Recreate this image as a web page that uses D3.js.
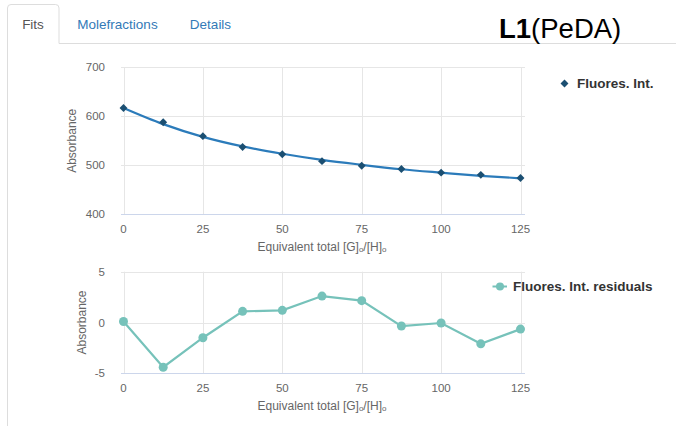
<!DOCTYPE html>
<html>
<head>
<meta charset="utf-8">
<script src="https://cdn.jsdelivr.net/npm/d3@7"></script>
<style>
  html, body { margin: 0; padding: 0; background: #fff; }
  svg { display: block; font-family: "Liberation Sans", Arial, Helvetica, sans-serif; }
</style>
</head>
<body>
<svg id="chart" width="676" height="426"></svg>
<script>
// ---- data ----
const xValues = [0, 12.5, 25, 37.5, 50, 62.5, 75, 87.5, 100, 112.5, 125];
const fluoresData = [617, 588, 559.5, 537.5, 522.5, 508.5, 499, 492.5, 485, 480.5, 474];
const fluoresFit = [617, 584, 558, 538.5, 523.5, 511, 501, 492, 485, 478.5, 473.5];
const residuals = [0.1, -4.4, -1.5, 1.1, 1.2, 2.6, 2.15, -0.35, -0.05, -2.1, -0.65];
const xTicks = [0, 25, 50, 75, 100, 125];
const yTicksTop = [400, 500, 600, 700];
const yTicksBottom = [-5, 0, 5];
const tabs = ["Fits", "Molefractions", "Details"];
const seriesName = "Fluores. Int.";
const residualName = "Fluores. Int. residuals";
const yTitle = "Absorbance";

const svg = d3.select("#chart");

// ---- tabs / header ----
svg.append("line").attr("x1", 59).attr("x2", 676).attr("y1", 43.5).attr("y2", 43.5)
  .attr("stroke", "#ddd");
svg.append("path")
  .attr("d", "M7.5,426 L7.5,8 Q7.5,4.5 11,4.5 L55.5,4.5 Q59,4.5 59,8 L59,43.5")
  .attr("fill", "none").attr("stroke", "#ddd");
const tabX = [33, 117.5, 210.5];
tabs.forEach((t, i) => {
  svg.append("text").attr("x", tabX[i]).attr("y", 28.5)
    .attr("text-anchor", "middle").attr("font-size", 13.5)
    .attr("fill", i === 0 ? "#555" : "#337ab7").text(t);
});
const title = svg.append("text").attr("x", 499).attr("y", 38)
  .attr("font-size", 27.5).attr("fill", "#000");
title.append("tspan").attr("font-weight", "bold").text("L1");
title.append("tspan").text("(PeDA)");

// ---- shared x scale ----
const x = d3.scaleLinear().domain([0, 125]).range([123.5, 520.5]);
const plotLeft = 121, plotRight = 525;

function drawPanel(cfg) {
  const g = svg.append("g");
  const y = cfg.y;
  g.selectAll(".hg").data(cfg.yTicks).enter().append("line")
    .attr("x1", plotLeft).attr("x2", plotRight)
    .attr("y1", d => Math.round(y(d)) + 0.5).attr("y2", d => Math.round(y(d)) + 0.5)
    .attr("stroke", "#e6e6e6");
  g.selectAll(".vg").data(xTicks).enter().append("line")
    .attr("x1", d => Math.round(x(d)) + 0.5).attr("x2", d => Math.round(x(d)) + 0.5)
    .attr("y1", y.range()[1]).attr("y2", y.range()[0])
    .attr("stroke", "#e6e6e6");
  const yb = Math.round(y.range()[0]) + 0.5;
  g.append("line").attr("x1", plotLeft).attr("x2", plotRight).attr("y1", yb).attr("y2", yb)
    .attr("stroke", "#ccd6eb");
  g.selectAll(".yl").data(cfg.yTicks).enter().append("text")
    .attr("x", 105).attr("y", d => y(d) + 4)
    .attr("text-anchor", "end").attr("font-size", 11.5).attr("fill", "#666")
    .text(d => d);
  g.selectAll(".xl").data(xTicks).enter().append("text")
    .attr("x", d => x(d)).attr("y", y.range()[0] + 19)
    .attr("text-anchor", "middle").attr("font-size", 11.5).attr("fill", "#666")
    .text(d => d);
  const xt = g.append("text").attr("x", 322).attr("y", y.range()[0] + 37)
    .attr("text-anchor", "middle").attr("font-size", 12).attr("fill", "#666");
  xt.append("tspan").text("Equivalent total [G]");
  xt.append("tspan").attr("font-size", 8).attr("dy", 1).text("o");
  xt.append("tspan").attr("dy", -1).text("/[H]");
  xt.append("tspan").attr("font-size", 8).attr("dy", 1).text("o");
  const cy = (y.range()[0] + y.range()[1]) / 2;
  g.append("text").attr("transform", `translate(${cfg.yTitleX},${cy}) rotate(-90)`)
    .attr("text-anchor", "middle").attr("font-size", 12).attr("fill", "#666")
    .text(yTitle);
  return g;
}

// ---- top panel ----
const yTop = d3.scaleLinear().domain([400, 700]).range([214.3, 67.3]);
const gTop = drawPanel({ y: yTop, yTicks: yTicksTop, yTitleX: 76 });
const fitPts = xValues.map((v, i) => [v, fluoresFit[i]]);
gTop.append("path")
  .attr("d", d3.line().x(d => x(d[0])).y(d => yTop(d[1])).curve(d3.curveMonotoneX)(fitPts))
  .attr("fill", "none").attr("stroke", "#2b7bba").attr("stroke-width", 2.2);
const diamond = d3.symbol().type(d3.symbolDiamond2).size(40);
gTop.selectAll(".pt").data(xValues).enter().append("path")
  .attr("d", diamond)
  .attr("transform", (d, i) => `translate(${x(d)},${yTop(fluoresData[i])})`)
  .attr("fill", "#1b4f72");
svg.append("path").attr("d", diamond).attr("transform", "translate(564.5,83.5)").attr("fill", "#1b4f72");
svg.append("text").attr("x", 577).attr("y", 88).attr("font-size", 13.5).attr("font-weight", "bold")
  .attr("fill", "#333").text(seriesName);

// ---- bottom panel ----
const yBot = d3.scaleLinear().domain([-5, 5]).range([373.3, 271.7]);
const gBot = drawPanel({ y: yBot, yTicks: yTicksBottom, yTitleX: 86 });
const resPts = xValues.map((v, i) => [v, residuals[i]]);
gBot.append("path")
  .attr("d", d3.line().x(d => x(d[0])).y(d => yBot(d[1]))(resPts))
  .attr("fill", "none").attr("stroke", "#76c2ba").attr("stroke-width", 2.2);
gBot.selectAll(".rp").data(resPts).enter().append("circle")
  .attr("cx", d => x(d[0])).attr("cy", d => yBot(d[1])).attr("r", 4.5)
  .attr("fill", "#76c2ba");
svg.append("line").attr("x1", 492.5).attr("x2", 507).attr("y1", 286.5).attr("y2", 286.5)
  .attr("stroke", "#76c2ba").attr("stroke-width", 2);
svg.append("circle").attr("cx", 500).attr("cy", 286.5).attr("r", 4).attr("fill", "#76c2ba");
svg.append("text").attr("x", 513).attr("y", 291).attr("font-size", 13.5).attr("font-weight", "bold")
  .attr("fill", "#333").text(residualName);
</script>
</body>
</html>
